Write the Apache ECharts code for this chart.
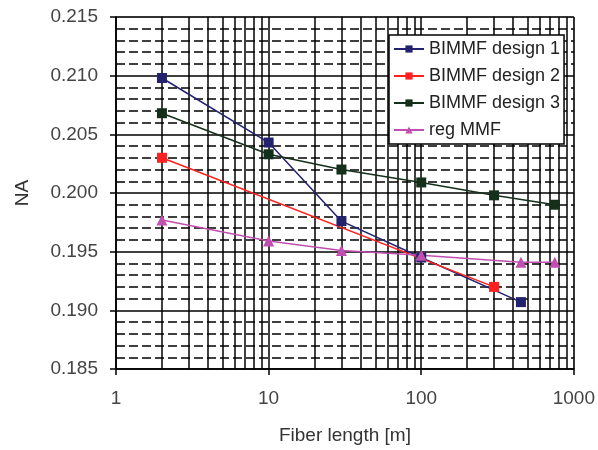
<!DOCTYPE html>
<html>
<head>
<meta charset="utf-8">
<script src="https://cdn.jsdelivr.net/npm/echarts@6/dist/echarts.min.js"></script>
<style>
  html, body { margin: 0; padding: 0; background: #fff; }
  #main { width: 598px; height: 450px; }
</style>
</head>
<body>
<div id="main"></div>
<script>
// data
var design1X = [2, 10, 30, 100, 450];
var design1Y = [0.2098, 0.2043, 0.1976, 0.1945, 0.1907];
var design2X = [2, 300];
var design2Y = [0.2030, 0.1920];
var design3X = [2, 10, 30, 100, 300, 750];
var design3Y = [0.2068, 0.2033, 0.2020, 0.2009, 0.1998, 0.1990];
var regX = [2, 10, 30, 100, 450, 750];
var regY = [0.1977, 0.1959, 0.1951, 0.1947, 0.1941, 0.1941];
var seriesNames = ['BIMMF design 1', 'BIMMF design 2', 'BIMMF design 3', 'reg MMF'];
var xTicks = [1, 10, 100, 1000];
// minor log grid lines
var minorX = [2, 3, 4, 5, 6, 7, 8, 9, 20, 30, 40, 50, 60, 70, 80, 90, 200, 300, 400, 500, 600, 700, 800, 900];

function pairs(xs, ys) {
  return xs.map(function (x, i) { return [x, ys[i]]; });
}

var chart = echarts.init(document.getElementById('main'));
var font = 'Liberation Sans, Arial, sans-serif';

function lineSeries(name, xs, ys, color, symbol, size) {
  return {
    name: name,
    type: 'line',
    data: pairs(xs, ys),
    symbol: symbol,
    symbolSize: size,
    z: 5,
    lineStyle: { color: color, width: 1.5 },
    itemStyle: { color: color },
    emphasis: { disabled: true }
  };
}

var option = {
  animation: false,
  textStyle: { fontFamily: font },
  grid: {
    left: 116, right: 24, top: 17, bottom: 79,
    show: true, borderColor: '#999', borderWidth: 1
  },
  legend: {
    orient: 'vertical',
    left: 389, top: 35,
    z: 20,
    data: seriesNames,
    backgroundColor: '#fff',
    borderColor: '#000',
    borderWidth: 1.5,
    borderRadius: 0,
    padding: [5, 4, 5, 4],
    itemWidth: 30,
    itemHeight: 9,
    itemGap: 9,
    textStyle: { fontSize: 18, color: '#222', fontFamily: font }
  },
  xAxis: {
    type: 'log',
    logBase: 10,
    min: 1,
    max: 1000,
    name: 'Fiber length [m]',
    nameLocation: 'middle',
    nameGap: 57,
    nameTextStyle: { fontSize: 19, color: '#333' },
    axisLine: { lineStyle: { color: '#000', width: 1.5 } },
    axisTick: { show: true, length: 6, lineStyle: { color: '#000', width: 1.5 } },
    axisLabel: {
      fontSize: 19, color: '#444', margin: 20,
      formatter: function (v) { return xTicks.indexOf(Math.round(v)) >= 0 ? String(Math.round(v)) : ''; }
    },
    splitLine: { show: true, lineStyle: { color: '#000', width: 1.5 } }
  },
  yAxis: {
    type: 'value',
    min: 0.185,
    max: 0.215,
    interval: 0.005,
    name: 'NA',
    nameLocation: 'middle',
    nameGap: 84,
    nameTextStyle: { fontSize: 19, color: '#333' },
    axisLine: { show: true, lineStyle: { color: '#000', width: 1.5 } },
    axisTick: { show: true, length: 6, lineStyle: { color: '#000', width: 1.5 } },
    axisLabel: {
      fontSize: 19, color: '#444', margin: 18,
      formatter: function (v) { return v.toFixed(3); }
    },
    splitLine: { show: true, lineStyle: { color: '#000', width: 1.5 } },
    minorTick: { show: false, splitNumber: 5 },
    minorSplitLine: { show: true, lineStyle: { color: '#000', width: 1.5, type: [9, 4] } }
  },
  series: [
    {
      name: 'grid',
      type: 'line',
      data: [],
      z: 1,
      silent: true,
      markLine: {
        z: 1,
        silent: true,
        symbol: 'none',
        label: { show: false },
        animation: false,
        lineStyle: { color: '#000', width: 1.5, type: 'solid' },
        emphasis: { disabled: true },
        data: minorX.map(function (x) { return { xAxis: x }; })
      }
    },
    lineSeries(seriesNames[0], design1X, design1Y, '#22226e', 'rect', 10),
    lineSeries(seriesNames[1], design2X, design2Y, '#ff2020', 'rect', 10),
    lineSeries(seriesNames[2], design3X, design3Y, '#14301a', 'rect', 10),
    lineSeries(seriesNames[3], regX, regY, '#c04fb0', 'triangle', 11)
  ]
};

chart.setOption(option);
</script>
</body>
</html>
